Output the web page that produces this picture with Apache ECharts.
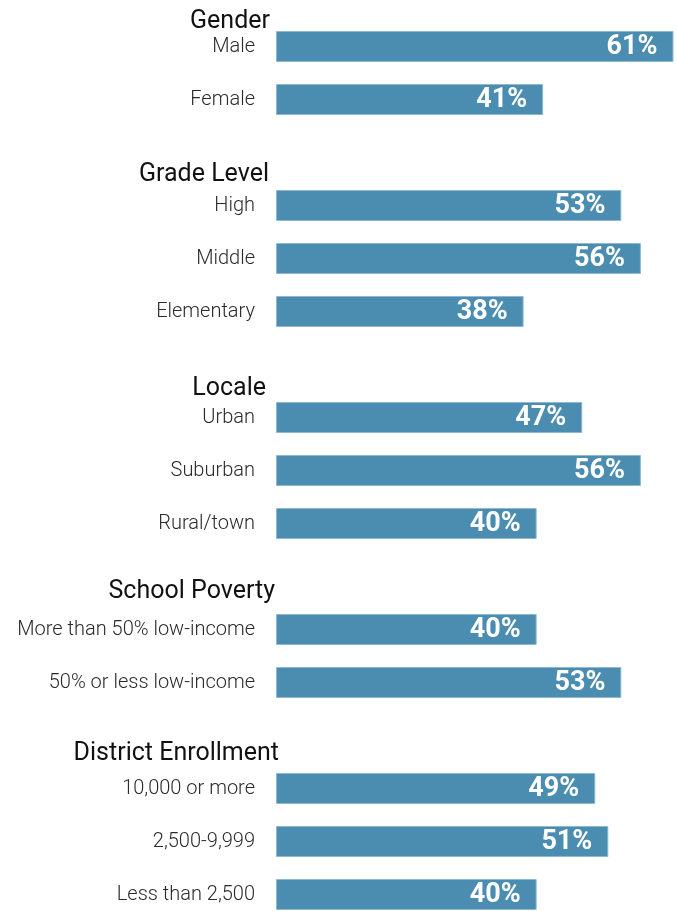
<!DOCTYPE html>
<html>
<head>
<meta charset="utf-8">
<script src="https://cdn.jsdelivr.net/npm/echarts@6/dist/echarts.min.js"></script>
<style>
  html, body { margin: 0; padding: 0; background: #fff; }
  #chart { width: 677px; height: 911px; }
</style>
</head>
<body>
<div id="chart"></div>
<script>
// Groups, their row labels and shares (%)
const groupTitles = ['Gender', 'Grade Level', 'Locale', 'School Poverty', 'District Enrollment'];

const genderLabels = ['Male', 'Female'];
const genderValues = [61, 41];

const gradeLabels = ['High', 'Middle', 'Elementary'];
const gradeValues = [53, 56, 38];

const localeLabels = ['Urban', 'Suburban', 'Rural/town'];
const localeValues = [47, 56, 40];

const povertyLabels = ['More than 50% low-income', '50% or less low-income'];
const povertyValues = [40, 53];

const enrollmentLabels = ['10,000 or more', '2,500-9,999', 'Less than 2,500'];
const enrollmentValues = [49, 51, 40];

// Heading placement: right edge x and vertical offset from the group's first row
const headingLayout = [
  { right: 270, dy: -25 },
  { right: 269, dy: -31 },
  { right: 266, dy: -29 },
  { right: 275, dy: -38 },
  { right: 279, dy: -35 }
];

const groups = [
  [genderLabels, genderValues],
  [gradeLabels, gradeValues],
  [localeLabels, localeValues],
  [povertyLabels, povertyValues],
  [enrollmentLabels, enrollmentValues]
];

// Build one category list with an empty spacer slot between groups
const categories = [];
const values = [];
const firstIndex = [];
groups.forEach(([labels, vals], g) => {
  if (g > 0) {
    categories.push('\u200b' + g);
    values.push(null);
  }
  firstIndex.push(categories.length);
  labels.forEach((l, i) => {
    categories.push(l);
    values.push(vals[i]);
  });
});

const chart = echarts.init(document.getElementById('chart'), null, { renderer: 'canvas' });

chart.setOption({
  animation: false,
  grid: {
    left: 276, width: 404, top: 20, height: 901,
    containLabel: false,
    outerBoundsMode: 'none'
  },
  xAxis: {
    type: 'value',
    min: 0,
    max: 62,
    show: false
  },
  yAxis: {
    type: 'category',
    data: categories,
    inverse: true,
    axisLine: { show: false },
    axisTick: { show: false },
    splitLine: { show: false },
    axisLabel: {
      margin: 21,
      color: '#2a2a2a',
      fontFamily: 'Roboto',
      fontWeight: 300,
      fontSize: 20,
      formatter: v => (v.charAt(0) === '\u200b' ? '' : v)
    }
  },
  series: [{
    type: 'bar',
    data: values,
    barWidth: 31,
    itemStyle: {
      color: '#4a8db1',
      borderColor: '#8dbad2',
      borderWidth: 1
    },
    label: {
      show: true,
      position: 'insideRight',
      distance: 16,
      offset: [0, 1],
      formatter: '{c}%',
      color: '#ffffff',
      fontFamily: 'Roboto',
      fontWeight: 'bold',
      fontSize: 27
    }
  }]
});

// Group headings placed relative to each group's first row
const graphics = groupTitles.map((t, g) => {
  const y = chart.convertToPixel({ yAxisIndex: 0 }, categories[firstIndex[g]]);
  return {
    type: 'text',
    x: headingLayout[g].right,
    y: y + headingLayout[g].dy,
    style: {
      text: t,
      fill: '#111111',
      font: '400 25px Roboto',
      textAlign: 'right',
      textVerticalAlign: 'middle'
    }
  };
});
chart.setOption({ graphic: graphics });
</script>
</body>
</html>
